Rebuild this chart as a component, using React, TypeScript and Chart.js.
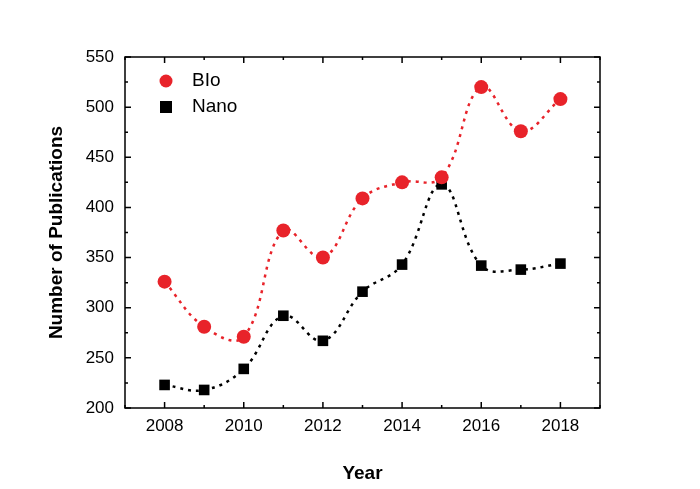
import React, { useEffect, useRef } from "react";
import { Chart, registerables } from "chart.js";
Chart.register(...registerables);

const years = [2008, 2009, 2010, 2011, 2012, 2013, 2014, 2015, 2016, 2017, 2018];
const bio = [326, 281, 271, 377, 350, 409, 425, 430, 520, 476, 508];
const nano = [223, 218, 239, 292, 267, 316, 343, 423, 342, 338, 344];
const xTicks = [2008, 2010, 2012, 2014, 2016, 2018];

const FONT = "'Liberation Sans', Arial, sans-serif";

const frame = {
  id: "frame",
  afterDraw(chart: any) {
    const { ctx, chartArea: a, scales } = chart;
    const x = scales.x, y = scales.y;
    ctx.save();
    ctx.strokeStyle = "#000";
    ctx.lineWidth = 1.5;
    ctx.strokeRect(a.left, a.top, a.right - a.left, a.bottom - a.top);
    ctx.beginPath();
    for (let v = 200; v <= 550; v += 25) {
      const p = y.getPixelForValue(v);
      const L = v % 50 === 0 ? 6 : 3;
      ctx.moveTo(a.left, p); ctx.lineTo(a.left + L, p);
      ctx.moveTo(a.right, p); ctx.lineTo(a.right - L, p);
    }
    for (let v = 2007; v <= 2019; v++) {
      const p = x.getPixelForValue(v);
      const L = v % 2 === 0 ? 6 : 3;
      ctx.moveTo(p, a.bottom); ctx.lineTo(p, a.bottom - L);
      ctx.moveTo(p, a.top); ctx.lineTo(p, a.top + L);
    }
    ctx.stroke();
    // legend
    ctx.fillStyle = "#e8232a";
    ctx.beginPath(); ctx.arc(166, 81, 6.5, 0, Math.PI * 2); ctx.fill();
    ctx.fillStyle = "#000";
    ctx.fillRect(160, 101, 12, 12);
    ctx.font = `19px ${FONT}`;
    ctx.textBaseline = "middle";
    ctx.fillText("BIo", 192, 81);
    ctx.fillText("Nano", 192, 107);
    ctx.restore();
  },
};

export default function App() {
  const ref = useRef<HTMLCanvasElement>(null);
  useEffect(() => {
    const c = new Chart(ref.current!, {
      type: "line",
      data: {
        datasets: [
          {
            label: "BIo",
            data: years.map((yr, i) => ({ x: yr, y: bio[i] })),
            borderColor: "#e8232a",
            backgroundColor: "#e8232a",
            borderDash: [3, 5],
            borderWidth: 2.5,
            tension: 0.4,
            pointStyle: "circle",
            pointRadius: 7,
            pointBorderWidth: 0,
          },
          {
            label: "Nano",
            data: years.map((yr, i) => ({ x: yr, y: nano[i] })),
            borderColor: "#000",
            backgroundColor: "#000",
            borderDash: [3, 5],
            borderWidth: 2.5,
            tension: 0.4,
            pointStyle: "rect",
            pointRadius: 7.5,
            pointBorderWidth: 0,
          },
        ],
      },
      options: {
        responsive: false,
        animation: false,
        layout: { padding: { top: 57, right: 100, left: 0, bottom: 0 } },
        plugins: { legend: { display: false }, tooltip: { enabled: false } },
        scales: {
          x: {
            type: "linear",
            min: 2007,
            max: 2019,
            afterBuildTicks: (s: any) => { s.ticks = xTicks.map((v) => ({ value: v })); },
            afterFit: (s: any) => { s.height = 81; },
            grid: { display: false, drawTicks: false },
            border: { display: false },
            ticks: { color: "#000", font: { family: FONT, size: 17 }, padding: 8, callback: (v: any) => String(v) },
            title: { display: true, text: "Year", color: "#000", font: { family: FONT, size: 19, weight: "bold" }, padding: { top: 6 } },
          },
          y: {
            min: 200,
            max: 550,
            afterFit: (s: any) => { s.width = 125; },
            grid: { display: false, drawTicks: false },
            border: { display: false },
            ticks: { stepSize: 50, color: "#000", font: { family: FONT, size: 17 }, padding: 11 },
            title: { display: true, text: "Number of Publications", color: "#000", font: { family: FONT, size: 19, weight: "bold" }, padding: { top: 45, bottom: 0 } },
          },
        },
      },
      plugins: [frame],
    });
    return () => c.destroy();
  }, []);
  return (
    <div style={{ position: "fixed", left: 0, top: 0, width: 700, height: 489, background: "#fff" }}>
      <canvas ref={ref} width={700} height={489} />
    </div>
  );
}
